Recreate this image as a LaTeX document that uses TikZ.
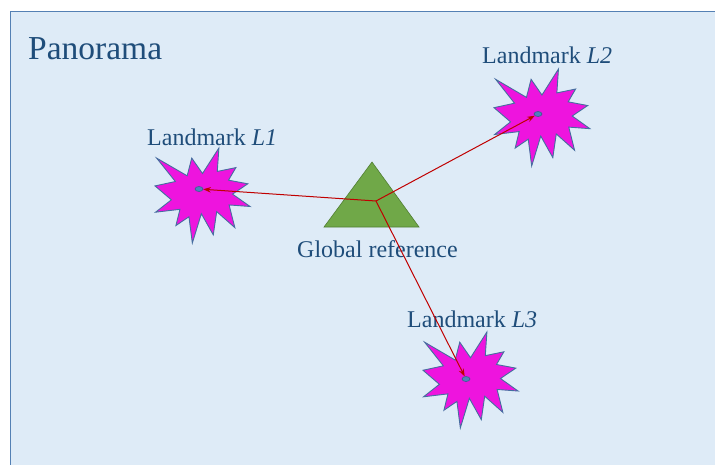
\documentclass[tikz,border=0pt]{standalone}
\usepackage{fontspec}
\setmainfont{Liberation Serif}
\usetikzlibrary{arrows.meta,shapes.geometric}
\definecolor{bgblue}{RGB}{222,235,247}
\definecolor{framecol}{RGB}{84,128,180}
\definecolor{txtcol}{RGB}{31,77,122}
\definecolor{starfill}{RGB}{238,20,222}
\definecolor{starline}{RGB}{70,110,160}
\definecolor{dotfill}{RGB}{79,129,189}
\definecolor{dotline}{RGB}{56,93,138}
\definecolor{trifill}{RGB}{112,168,72}
\definecolor{triline}{RGB}{80,126,50}
\definecolor{arrcol}{RGB}{192,0,0}
\tikzset{
  framesty/.style={draw=framecol,line width=1.3pt,fill=bgblue},
  starsty/.style={draw=starline,line width=0.9pt,fill=starfill,line join=miter},
  dotsty/.style={ellipse,draw=dotline,line width=0.6pt,fill=dotfill,minimum width=8pt,minimum height=5pt,inner sep=0pt},
  tristy/.style={draw=triline,line width=0.6pt,fill=trifill},
  arrsty/.style={draw=arrcol,line width=1pt,-{Stealth[length=7.5pt,width=5.5pt]}},
  lbl/.style={text=txtcol,font=\fontsize{24}{28}\selectfont,anchor=base west,inner sep=0pt},
  explosion/.pic={
    \draw[starsty] (108,58) -- (145.22,0) -- (141.55,53.25) -- (183.80,44.57) -- (167.02,73.15) -- (210.97,81.37) -- (176.07,104.75) -- (216,132.90) -- (168.37,129.42) -- (181.45,180.95) -- (140.20,144.57) -- (132.47,197.37) -- (105.32,149.35) -- (84.85,216) -- (77.15,156.27) -- (47.62,176.17) -- (56.67,139.37) -- (1.35,145.87) -- (37.22,117.75) -- (0,86.15) -- (46.27,76.17) -- (3.70,22.95) -- (73.12,63.20) -- (83.52,22.95) -- cycle;
  }
}
\begin{document}
\begin{tikzpicture}[x=1pt,y=-1pt]
\useasboundingbox (0,0) rectangle (715,464);
\path[framesty] (10.5,11.5) rectangle (717,466);
\node[lbl,font=\fontsize{33.5}{38}\selectfont] (pano) at (28,59) {Panorama};
% stars
\begin{scope}[shift={(155,148)},x=0.44pt,y=-0.44pt]
  \pic {explosion};
\end{scope}
\begin{scope}[shift={(494,69)},x=0.444pt,y=-0.449pt]
  \pic {explosion};
\end{scope}
\begin{scope}[shift={(423,332)},x=0.44pt,y=-0.444pt]
  \pic {explosion};
\end{scope}
% dots
\node[dotsty] (d1) at (199,189) {};
\node[dotsty] (d2) at (538,114) {};
\node[dotsty] (d3) at (466,379) {};
% triangle
\draw[tristy] (372,162) -- (419,227) -- (324,227) -- cycle;
\coordinate (hub) at (376,201);
% labels
\node[lbl] (l1) at (147,145) {Landmark \textit{L1}};
\node[lbl] (l2) at (482,63) {Landmark \textit{L2}};
\node[lbl] (l3) at (407,327) {Landmark \textit{L3}};
\node[lbl] (gr) at (297,257) {Global reference};
% arrows
\draw[arrsty] (hub) -- (d1);
\draw[arrsty] (hub) -- (d2);
\draw[arrsty] (hub) -- (d3);
\end{tikzpicture}
\end{document}
